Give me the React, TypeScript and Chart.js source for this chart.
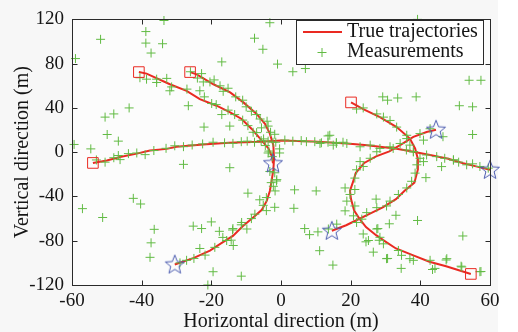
import React, { useEffect, useRef } from "react";
import { Chart, registerables } from "chart.js";

Chart.register(...registerables);

// ---------- data ----------
const xTickValues = [-60, -40, -20, 0, 20, 40, 60];
const yTickValues = [-120, -80, -40, 0, 40, 80, 120];
const xTitle = "Horizontal direction (m)";
const yTitle = "Vertical direction (m)";
const legendLabels = ["True trajectories", "Measurements"];

// true trajectories (start = square, end = star)
const trackA: [number, number][] = [
  [-40.8, 72.4], [-38.6, 71], [-31.9, 61.4], [-27.1, 55.5], [-23.3, 48], [-18.5, 42],
  [-14.6, 36], [-11.3, 30], [-8.4, 21], [-6, 12.3], [-3.6, 3.4], [-2.6, -4], [-2.3, -10],
];
const trackB: [number, number][] = [
  [-26.1, 72.4], [-24.2, 70.3], [-19.4, 61.4], [-14.6, 54], [-10.8, 45], [-7, 34.6],
  [-4.6, 25.7], [-3.2, 16.8], [-2.2, 6.4], [-2, -6], [-2.2, -16], [-2.7, -26], [-3.2, -35],
  [-4.1, -44], [-5.5, -52], [-8, -59], [-11, -67], [-13.8, -75.6], [-17, -82],
  [-20.4, -89], [-25, -95.5], [-30.5, -101.5],
];
const trackC: [number, number][] = [
  [-54, -9.7], [-50, -7.5], [-46.2, -4.3], [-41.4, -1.3], [-37.6, 1.5], [-32.8, 3],
  [-30, 5], [-22.4, 7], [-15, 8.5], [-6, 9.4], [0, 10.5], [9.2, 9.6], [18.9, 7.9],
  [24, 6.5], [28.4, 4.9], [33.2, 3.2], [38, 0.5], [42.8, -2.5], [48, -6], [52.3, -10],
  [56, -12.8], [60, -15.9],
];
const trackD: [number, number][] = [
  [20.1, 45], [23.6, 39], [28.4, 31.7], [33.2, 22.7], [37, 12.3], [38.5, 3.4], [39.2, -5],
  [39.3, -15.6], [38.3, -27.5], [35.4, -35], [33, -42.4], [29.2, -49.8], [25.4, -55.8],
  [21.5, -61.7], [18.7, -66], [14.6, -71],
];
const trackE: [number, number][] = [
  [54.5, -110], [47.4, -103], [42.6, -99], [37.8, -93], [33, -87], [30.1, -81],
  [27.3, -75], [24.4, -67.6], [22.5, -60], [21, -52.8], [20.1, -42.4], [19.8, -35],
  [20.6, -27.5], [21.5, -18.6], [23.9, -9.7], [27.3, -3.7], [31.1, 0.7], [34.2, 6.4],
  [38, 13.8], [41.8, 18.3], [44.5, 20.3],
];

// measurements
const measClutter: [number, number][] = [
  [-33.6, 119], [-38.8, 109], [-51.8, 102], [-38.8, 98.6], [-34, 98], [-37.3, 89.6],
  [-59, 84.6], [-26.6, 42], [-43.6, 40], [-48, 34.6], [-50.5, 31.7], [-49.9, 16],
  [-46.7, 10], [-59.4, 7], [-54.6, 3], [-3.2, 117], [-7.6, 103], [-5.2, 93], [-17, 81.6],
  [-1, 79.6], [3.4, 72.7], [7, 75.6], [13.5, 14.7], [15.9, 8.7], [14, 15.3],
  [39.2, 120], [54, 65], [57.4, 65], [29.2, 50], [30.6, 47], [33.5, 49], [38.8, 50],
  [51.2, 42], [55, 41], [55, 16], [46.5, 14], [-28, -11], [-42.4, -41.7], [-40.3, -46.8],
  [-57, -51], [-51.2, -59], [-36.4, -69.7], [-37.3, -81.9], [-37.6, -95], [-25.2, -66.8],
  [-22.8, -69], [-23.3, -87], [-14.7, -14], [-9.5, -37], [-6.1, -43], [3.9, -34],
  [3.7, -50.7], [10.1, -35], [6.8, -69], [8.2, -74.5], [10.6, -72], [11.1, -89],
  [14.9, -102], [-19.5, -108], [-11.4, -112], [-21, -120], [27.3, -42.4], [39.2, -61.7],
  [52.2, -75.7], [41.6, -23], [46.1, -13], [30.6, -96], [34.5, -105], [57.4, -107.8],
  [-22.1, 22.7], [-31.9, 55.5], [-35.7, 63], [-40.5, 67.3], [-22.3, 63.5],
];
const measTrackAB: [number, number][] = [
  [-38.6, 66], [-35.7, 66], [-32.8, 66.7], [-31.4, 59], [-27, 57], [-23.3, 55.5],
  [-22, 50], [-19.9, 44], [-18.6, 43], [-17, 34], [-15.2, 38], [-13.3, 34], [-14.7, 23.6],
  [-11, 29], [-9.5, 24], [-8, 18], [-7, 17.7], [-5.6, 22], [-5, 12], [-4.5, 6],
  [-3.5, 1], [-2.5, -4], [-26, 72.7], [-22.8, 71], [-24, 67], [-20.4, 63.5],
  [-19.2, 65.3], [-17.5, 60], [-16.6, 55], [-15.2, 57.8], [-13, 50], [-11, 47],
  [-10, 41], [-8.5, 37], [-7, 34], [-6, 30], [-4, 28], [-3.7, 23.6], [-3, 18],
  [-1.8, 16.2], [-1.5, 9], [-0.4, 3], [-0.4, -0.7], [-3.7, -0.7], [-1.8, -18.6],
  [-2.8, -27.5], [-1.3, -26], [-2.2, -30.8], [-1.7, -35], [-4.2, -41], [-5.1, -48],
  [-1.8, -49.8], [-4.2, -52.8], [-7.5, -56], [-8.5, -60], [-11.3, -63.5], [-9.8, -69.4],
  [-11.4, -65.6], [-13.9, -70.3], [-13.8, -69], [-15.6, -79.8], [-14.3, -79.5],
  [-13.7, -84.3], [-16.7, -77], [-17.7, -71.5], [-20, -63], [-19, -86], [-21.8, -93],
  [-25, -96], [-27.1, -97.7], [-29, -100], [-1.2, -24.8], [-3.2, -17.4],
];
const measTrackC: [number, number][] = [
  [-53, -7], [-50.5, -9], [-48, -5], [-46.7, -3], [-46.2, -6.7], [-43.8, -1.3],
  [-41.4, -0.7], [-39, -2.2], [-36.5, 1.5], [-33, 3.5], [-30.5, 5.8], [-28, 5],
  [-25.5, 6.5], [-22.5, 7.5], [-19.5, 9], [-16.2, 8.5], [-13.8, 8], [-11.4, 9.5],
  [-9.7, 10], [-7.6, 9], [-5.7, 10.5], [-3.7, 10], [-2.3, 9], [1.1, 11], [3.4, 10],
  [5.8, 10.5], [7.3, 9.5], [9.7, 9.5], [11.6, 8.5], [13.5, 9], [15.9, 8],
  [17.8, 9], [18.9, 7.9], [22.7, 4.9], [25.6, 6.4], [28.4, 3.4], [31.3, 4.9],
  [36, 2], [38, 0.4], [41.8, -2.5], [44.7, -4], [47, -5.5], [49.5, -7], [51, -9],
  [53.3, -11.4], [55, -10.5], [57.1, -12.9], [59.5, -14.4],
];
const measTrackDE: [number, number][] = [
  [21.7, 39], [23.6, 40], [27.5, 34.6], [29.4, 31.7], [31.3, 28.7], [33.2, 22.7],
  [36.1, 15.3], [34.2, 7.9], [37, 6.4], [39.9, -5.5], [39, -11.4], [40.9, -8.5],
  [38.5, -18.9], [37.5, -26.3], [36.1, -32.3], [33.7, -38.2], [31.3, -44.2],
  [30.3, -48.6], [27.5, -50.1], [24.6, -54.6], [23.2, -60.5], [21.7, -63.5],
  [20.8, -57.5], [21.2, -48.6], [18.4, -53], [18.9, -44.2], [19.8, -38.2], [21.2, -33.7],
  [18.4, -32.3], [21.2, -23.4], [21.7, -15.9], [22.7, -8.5], [25.6, -5.5], [23.6, -12.9],
  [27.5, 0.4], [16, -65], [13.6, -69.4], [23.6, -73.9], [27.5, -69.4], [28.4, -76.9],
  [25.1, -79.8], [29.4, -82.8], [26.5, -90.3], [30.3, -96.2], [33.7, -88.8],
  [34.6, -93.2], [37, -96.2], [38, -97.7], [42.8, -97.7], [47.6, -96.2], [44.2, -105],
  [51.9, -103.7], [57.1, -108], [49.5, -7], [32.2, 3.4], [36.1, 12.3], [39.9, 16.8],
  [42.8, 21.2], [40.9, 10.9], [38, 0.4], [11.2, 7.9], [15, 6.4], [24.4, -81],
  [27.8, -69], [28.2, -79.6], [31.1, -64.7], [33, -57], [47.4, -97.4], [51.7, -103],
  [43.5, -106],
];

// ---------- styles ----------
const FONT = "'Liberation Serif', 'Times New Roman', serif";
const RED = "#ea2a22";
const GREEN = "#62bb44";
const BLUE = "#4c5cb0";
const INK = "#151515";

const tracks = [trackA, trackB, trackC, trackD, trackE];
const toPts = (arr: [number, number][]) => arr.map(([x, y]) => ({ x, y }));

function makeStar(): HTMLCanvasElement {
  const c = document.createElement("canvas");
  c.width = 24;
  c.height = 24;
  const g = c.getContext("2d")!;
  const cx = 12, cy = 12.5, R = 10, r = 4.3;
  g.beginPath();
  for (let i = 0; i < 10; i++) {
    const ang = -Math.PI / 2 + (i * Math.PI) / 5;
    const rad = i % 2 === 0 ? R : r;
    const px = cx + rad * Math.cos(ang);
    const py = cy + rad * Math.sin(ang);
    if (i === 0) g.moveTo(px, py);
    else g.lineTo(px, py);
  }
  g.closePath();
  g.strokeStyle = BLUE;
  g.lineWidth = 1;
  g.stroke();
  return c;
}

const framePlugin = {
  id: "framePlugin",
  beforeDraw(chart: any) {
    const { ctx, width, height } = chart;
    ctx.save();
    ctx.fillStyle = "#ffffff";
    ctx.fillRect(0, 0, width, height);
    ctx.fillStyle = "#f7f7f7";
    ctx.fillRect(0, 0, 498, height);
    ctx.fillStyle = "#fcfcfc";
    const a = chart.chartArea;
    ctx.fillRect(a.left, a.top, a.right - a.left, a.bottom - a.top);
    ctx.restore();
  },
  afterDatasetsDraw(chart: any) {
    const { ctx, chartArea: a, scales } = chart;
    ctx.save();
    ctx.strokeStyle = "#2a2a2a";
    ctx.lineWidth = 1;
    const L = Math.round(a.left) + 0.5, R = Math.round(a.right) + 0.5;
    const T = Math.round(a.top) + 0.5, B = Math.round(a.bottom) + 0.5;
    ctx.strokeRect(L, T, R - L, B - T);
    const tl = 5;
    ctx.beginPath();
    for (const v of xTickValues) {
      const px = Math.round(scales.x.getPixelForValue(v)) + 0.5;
      ctx.moveTo(px, B); ctx.lineTo(px, B - tl);
      ctx.moveTo(px, T); ctx.lineTo(px, T + tl);
    }
    for (const v of yTickValues) {
      const py = Math.round(scales.y.getPixelForValue(v)) + 0.5;
      ctx.moveTo(L, py); ctx.lineTo(L + tl, py);
      ctx.moveTo(R, py); ctx.lineTo(R - tl, py);
    }
    ctx.stroke();
    ctx.restore();
  },
  afterDraw(chart: any) {
    const { ctx } = chart;
    ctx.save();
    // legend box
    const bx = 296.5, by = 20.5, bw = 187, bh = 44;
    ctx.fillStyle = "#ffffff";
    ctx.fillRect(bx, by, bw, bh);
    ctx.strokeStyle = "#2a2a2a";
    ctx.lineWidth = 1;
    ctx.strokeRect(bx, by, bw, bh);
    // line sample
    ctx.strokeStyle = RED;
    ctx.lineWidth = 2;
    ctx.beginPath();
    ctx.moveTo(303, 32);
    ctx.lineTo(342, 32);
    ctx.stroke();
    // cross sample
    ctx.strokeStyle = GREEN;
    ctx.lineWidth = 1;
    ctx.beginPath();
    ctx.moveTo(317.5, 52.5); ctx.lineTo(326.5, 52.5);
    ctx.moveTo(322, 48); ctx.lineTo(322, 57);
    ctx.stroke();
    ctx.fillStyle = INK;
    ctx.font = `20px ${FONT}`;
    ctx.textBaseline = "middle";
    ctx.textAlign = "left";
    ctx.fillText(legendLabels[0], 347, 32);
    ctx.fillText(legendLabels[1], 347, 52);
    ctx.restore();
  },
};

export default function App() {
  const ref = useRef<HTMLCanvasElement | null>(null);

  useEffect(() => {
    if (!ref.current) return;
    const star = makeStar();
    const startPts = tracks.map((t) => ({ x: t[0][0], y: t[0][1] }));
    const endPts = tracks.map((t) => ({ x: t[t.length - 1][0], y: t[t.length - 1][1] }));
    const meas = [...measClutter, ...measTrackAB, ...measTrackC, ...measTrackDE];

    const datasets: any[] = [
      {
        label: "ends",
        data: endPts,
        pointStyle: star,
        pointRadius: 10,
        showLine: false,
        clip: false,
        order: 0,
      },
      {
        label: "starts",
        data: startPts,
        pointStyle: "rect",
        pointRadius: 7.5,
        pointBorderColor: RED,
        pointBackgroundColor: "rgba(0,0,0,0)",
        pointBorderWidth: 1,
        showLine: false,
        clip: false,
        order: 1,
      },
      {
        label: legendLabels[1],
        data: toPts(meas),
        pointStyle: "cross",
        pointRadius: 4.5,
        pointBorderColor: GREEN,
        pointBorderWidth: 1,
        showLine: false,
        clip: false,
        order: 2,
      },
      ...tracks.map((t, i) => ({
        label: i === 0 ? legendLabels[0] : "track" + i,
        data: toPts(t),
        showLine: true,
        borderColor: RED,
        borderWidth: 2,
        pointRadius: 0,
        tension: 0,
        fill: false,
        order: 3,
      })),
    ];

    const chart = new Chart(ref.current, {
      type: "scatter",
      data: { datasets },
      plugins: [framePlugin],
      options: {
        responsive: false,
        animation: false,
        devicePixelRatio: 1,
        layout: { padding: { top: 16, right: 28, left: 0, bottom: 0 } },
        plugins: { legend: { display: false }, tooltip: { enabled: false } },
        scales: {
          x: {
            type: "linear",
            min: -60,
            max: 60,
            afterBuildTicks: (s: any) => {
              s.ticks = xTickValues.map((v) => ({ value: v }));
            },
            afterFit: (s: any) => {
              s.height = 47;
            },
            ticks: {
              font: { family: FONT, size: 19 },
              color: INK,
              padding: 5,
              maxRotation: 0,
              autoSkip: false,
            },
            grid: { display: false, drawTicks: false },
            border: { display: false },
            title: {
              display: true,
              text: xTitle,
              font: { family: FONT, size: 20, lineHeight: 1 },
              color: INK,
              padding: 0,
            },
          },
          y: {
            type: "linear",
            min: -120,
            max: 120,
            afterBuildTicks: (s: any) => {
              s.ticks = yTickValues.map((v) => ({ value: v }));
            },
            afterFit: (s: any) => {
              s.width = 72;
            },
            ticks: {
              font: { family: FONT, size: 19 },
              color: INK,
              padding: 8,
              autoSkip: false,
            },
            grid: { display: false, drawTicks: false },
            border: { display: false },
            title: {
              display: true,
              text: yTitle,
              font: { family: FONT, size: 20, lineHeight: 1 },
              color: INK,
              padding: { top: 13, bottom: 0 },
            },
          },
        },
      } as any,
    });
    return () => chart.destroy();
  }, []);

  return (
    <div style={{ position: "absolute", left: 0, top: 0, width: 518, height: 332 }}>
      <canvas ref={ref} width={518} height={332} style={{ width: 518, height: 332, display: "block" }} />
    </div>
  );
}
